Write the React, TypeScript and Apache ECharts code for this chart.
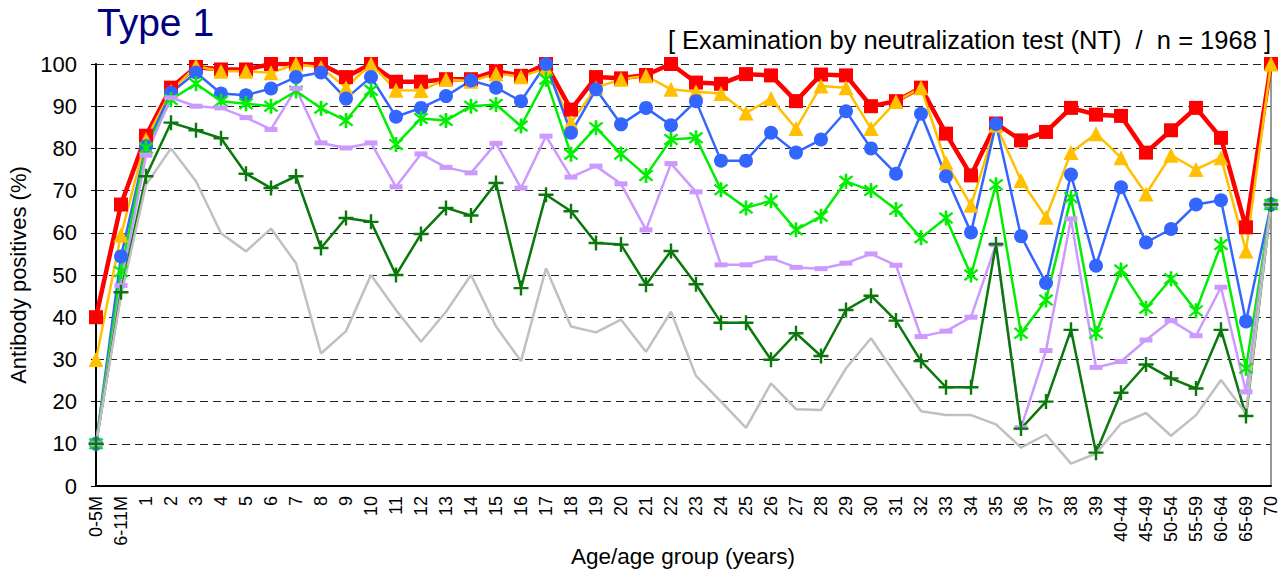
import React, { useEffect, useRef } from "react";
import * as echarts from "echarts";

const categories: string[] = [
  "0-5M", "6-11M",
  "1", "2", "3", "4", "5", "6", "7", "8", "9", "10",
  "11", "12", "13", "14", "15", "16", "17", "18", "19", "20",
  "21", "22", "23", "24", "25", "26", "27", "28", "29", "30",
  "31", "32", "33", "34", "35", "36", "37", "38", "39",
  "40-44", "45-49", "50-54", "55-59", "60-64", "65-69", "70",
];

const redValues = [40, 66.7, 83, 94.4, 99.3, 98.7, 98.7, 100, 100, 100, 96.9, 100, 95.8, 95.8, 96.4, 96.4, 98.3, 97.2, 100, 89.2, 96.9, 96.6, 97.4, 100, 95.6, 95.3, 97.6, 97.3, 91.2, 97.5, 97.3, 90.0, 91.2, 94.4, 83.5, 73.6, 85.9, 81.9, 83.9, 89.6, 88.0, 87.7, 79.0, 84.3, 89.6, 82.5, 61.3, 100];
const yellowValues = [30, 59.5, 82.1, 93.5, 99.5, 98.3, 98.3, 97.9, 100, 99.2, 94.4, 100, 93.8, 93.7, 96.4, 95.9, 97.7, 97.0, 99.0, 86.1, 94.4, 96.4, 97.2, 94.0, 93.4, 93.0, 88.4, 91.8, 84.7, 94.8, 94.4, 84.7, 91.1, 94.4, 76.6, 66.5, 85.5, 72.4, 63.7, 79.0, 83.5, 77.8, 69.2, 78.4, 75.0, 77.8, 55.7, 100];
const blueValues = [10, 54.4, 80.5, 93.2, 98.0, 93.0, 92.6, 94.2, 96.9, 98.0, 91.8, 96.9, 87.5, 89.6, 92.4, 96.1, 94.4, 91.2, 100, 83.7, 94.0, 85.7, 89.6, 85.5, 91.2, 77.1, 77.1, 83.7, 79.0, 82.1, 88.8, 80.0, 74.0, 88.2, 73.4, 60.1, 85.8, 59.2, 48.1, 73.8, 52.2, 70.8, 57.7, 60.9, 66.7, 67.7, 39.0, 66.7];
const greenValues = [10, 50.8, 80.1, 91.6, 95.3, 91.2, 90.6, 90.0, 93.6, 89.5, 86.6, 93.8, 80.9, 87.1, 86.6, 90.0, 90.4, 85.3, 96.4, 78.6, 84.9, 78.7, 73.6, 82.1, 82.5, 70.2, 65.9, 67.6, 60.7, 63.9, 72.2, 70.0, 65.5, 58.8, 63.5, 50.0, 71.4, 36.2, 44.1, 68.3, 36.2, 51.2, 42.1, 49.1, 41.5, 57.2, 27.9, 66.7];
const lavenderValues = [10, 47.5, 78.4, 92.0, 90.0, 89.6, 87.3, 84.5, 94.2, 81.3, 80.1, 81.3, 70.9, 78.7, 75.5, 74.2, 81.2, 70.6, 82.9, 73.2, 75.8, 71.6, 60.7, 76.4, 69.7, 52.4, 52.4, 54.0, 51.8, 51.5, 52.8, 55.0, 52.3, 35.4, 36.7, 40.0, 57.2, 13.8, 32.1, 63.3, 28.1, 29.5, 34.6, 39.2, 35.6, 47.1, 22.3, 66.7];
const darkGreenValues = [10, 45.9, 73.4, 86.1, 84.3, 82.4, 74.0, 70.6, 73.4, 56.4, 63.5, 62.6, 50.0, 59.7, 65.9, 64.1, 71.8, 46.9, 69.0, 65.1, 57.6, 57.2, 47.7, 55.7, 47.8, 38.7, 38.7, 29.9, 36.2, 30.8, 41.7, 45.1, 39.2, 29.6, 23.4, 23.4, 57.3, 13.6, 20.0, 37.0, 7.9, 22.1, 28.8, 25.5, 23.1, 37.0, 16.6, 66.7];
const grayValues = [10, 45, 71.4, 80.0, 72.2, 59.9, 55.6, 61.0, 52.8, 31.4, 36.7, 50.0, 41.7, 34.2, 41.3, 50.0, 37.8, 29.6, 51.6, 37.8, 36.4, 39.4, 31.8, 41.3, 26.1, 20.0, 13.8, 24.3, 18.2, 18.0, 27.9, 35.0, 26.3, 17.7, 16.8, 16.8, 14.6, 9.1, 12.2, 5.3, 7.7, 14.8, 17.3, 11.9, 16.8, 25.1, 17.2, 66.7];

const yTicks = [0, 10, 20, 30, 40, 50, 60, 70, 80, 90, 100];

const FONT = "'Liberation Sans', Arial, sans-serif";

const ASTERISK =
  "path://M4.3,0 L5.7,0 L5.7,10 L4.3,10 Z " +
  "M1.995,1.005 L8.995,8.005 L8.005,8.995 L1.005,1.995 Z " +
  "M8.995,1.995 L1.995,8.995 L1.005,8.005 L8.005,1.005 Z";
const PLUS =
  "path://M4.2,0 L5.8,0 L5.8,4.2 L10,4.2 L10,5.8 L5.8,5.8 L5.8,10 L4.2,10 L4.2,5.8 L0,5.8 L0,4.2 L4.2,4.2 Z";

export default function App() {
  const ref = useRef<HTMLDivElement>(null);
  useEffect(() => {
    document.body.style.margin = "0";
    const chart = echarts.init(ref.current!, null, { renderer: "svg" });
    const mk = (
      name: string,
      data: number[],
      color: string,
      width: number,
      symbol: any,
      size: any
    ) => ({
      name,
      type: "line",
      data,
      symbol,
      symbolSize: size,
      showSymbol: symbol !== "none",
      lineStyle: { color, width },
      itemStyle: { color, borderColor: color, borderWidth: 0 },
      z: 2,
    });
    chart.setOption({
      animation: false,
      textStyle: { fontFamily: FONT },
      grid: {
        left: 96,
        right: 14,
        top: 64,
        bottom: 88,
        containLabel: false,
        outerBoundsMode: "none",
      },
      graphic: [
        {
          type: "text",
          left: 97,
          top: 3,
          style: { text: "Type 1", fontSize: 39, fill: "#000080", fontFamily: FONT },
        },
        {
          type: "text",
          right: 14,
          top: 27,
          style: {
            text: "[ Examination by neutralization test (NT)  /  n = 1968 ]",
            fontSize: 25.5,
            fill: "#000",
            fontFamily: FONT,
          },
        },
        {
          type: "text",
          x: 683,
          y: 556,
          style: {
            text: "Age/age group (years)",
            fontSize: 22.5,
            fill: "#000",
            fontFamily: FONT,
            align: "center",
            verticalAlign: "middle",
          },
        },
      ],
      xAxis: {
        type: "category",
        data: categories,
        boundaryGap: false,
        axisLine: { show: true, lineStyle: { color: "#000", width: 2 } },
        axisTick: { show: false },
        axisLabel: { rotate: 90, interval: 0, fontSize: 18, color: "#000", margin: 10, fontFamily: FONT },
        splitLine: { show: false },
      },
      yAxis: [
        {
          type: "value",
          min: 0,
          max: 100,
          interval: 10,
          axisLine: { show: true, lineStyle: { color: "#000", width: 2 } },
          axisTick: { show: true, length: 5, lineStyle: { color: "#000" } },
          axisLabel: {
            fontSize: 22,
            color: "#000",
            margin: 19,
            fontFamily: FONT,
            formatter: (v: number) => (yTicks.includes(v) ? String(v) : ""),
          },
          splitLine: { show: true, lineStyle: { color: "#222", width: 1.2, type: [8, 5] } },
          name: "Antibody positives (%)",
          nameLocation: "middle",
          nameGap: 66,
          nameTextStyle: { fontSize: 22, color: "#000", fontFamily: FONT },
        },
        {
          type: "value",
          min: 0,
          max: 100,
          interval: 10,
          position: "right",
          axisLine: { show: true, lineStyle: { color: "#777", width: 1.5 } },
          axisTick: { show: false },
          axisLabel: { show: false },
          splitLine: { show: false },
        },
      ],
      series: [
        mk("red", redValues, "#FF0000", 4.5, "rect", 14),
        mk("yellow", yellowValues, "#FFC000", 2.5, "triangle", 15),
        mk("blue", blueValues, "#3366FF", 2.5, "circle", 14),
        mk("green", greenValues, "#00EE00", 2.5, ASTERISK, 15),
        mk("lavender", lavenderValues, "#CC99FF", 2.5, "rect", [13, 5]),
        mk("darkgreen", darkGreenValues, "#0A780A", 2.5, PLUS, 15),
        mk("gray", grayValues, "#C0C0C0", 2.5, "none", 0),
      ],
    });
    return () => chart.dispose();
  }, []);
  return <div ref={ref} style={{ width: 1285, height: 574 }} />;
}
